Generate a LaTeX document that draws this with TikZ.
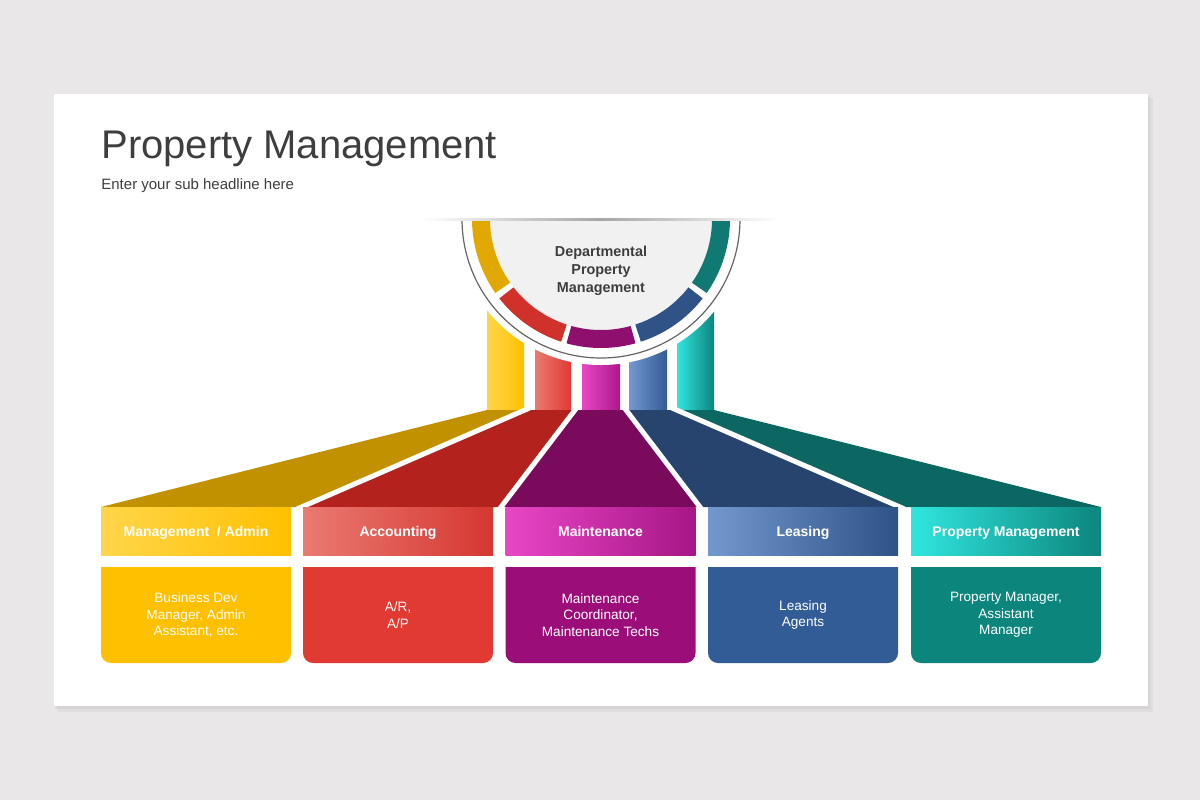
\documentclass[tikz,border=0pt]{standalone}
\usepackage{fontspec}
\setmainfont{Liberation Sans}
\usetikzlibrary{positioning}

\definecolor{bg}{HTML}{E9E7E8}
\definecolor{ink}{HTML}{3E3E3E}
\definecolor{hubbg}{HTML}{F1F1F1}
% base / light / floor / ring tones
\definecolor{yel}{HTML}{FFC000}  \definecolor{yelL}{HTML}{FFD54A}  \definecolor{yelD}{HTML}{C19100}  \definecolor{yelR}{HTML}{E0A800}
\definecolor{red}{HTML}{E03A33}  \definecolor{redL}{HTML}{EA7A72}  \definecolor{redD}{HTML}{B3221C}  \definecolor{redR}{HTML}{D0322B}
\definecolor{mag}{HTML}{9B0E7A}  \definecolor{magL}{HTML}{E846C6}  \definecolor{magD}{HTML}{7A0B5C}  \definecolor{magR}{HTML}{8E0F6E}
\definecolor{blu}{HTML}{325C96}  \definecolor{bluL}{HTML}{7398CE}  \definecolor{bluD}{HTML}{27446F}  \definecolor{bluR}{HTML}{2F5287}
\definecolor{tea}{HTML}{0C857D}  \definecolor{teaL}{HTML}{30E6DF}  \definecolor{teaD}{HTML}{0C6762}  \definecolor{teaR}{HTML}{107A72}

\begin{document}
\begin{tikzpicture}[x=0.5pt, y=-0.5pt,
  head/.style={minimum width=95pt, minimum height=24pt, inner sep=0pt, text=white,
    text height=7pt, text depth=2pt, font=\fontsize{7}{8}\selectfont\bfseries},
  body/.style={inner sep=0pt, text=white, align=center, font=\fontsize{6.8}{8.25}\selectfont},
  sep/.style={white, line width=2.5pt}]

  % slide
  \fill[bg] (0,0) rectangle (1200,800);
  \fill[black, opacity=.04] (57,98) rectangle (1153,712);
  \fill[black, opacity=.04] (55,95) rectangle (1150,709);
  \fill[white] (54,94) rectangle (1148,706);

  \node[anchor=base west, inner sep=0pt, text=ink, font=\fontsize{20}{24}\selectfont] (title) at (101,158) {Property Management};
  \node[anchor=base west, inner sep=0pt, text=ink, font=\fontsize{7.5}{9}\selectfont] (subtitle) at (101,189) {Enter your sub headline here};

  % columns under the hub
  \fill[left color=yelL, right color=yel] (487,290) rectangle (524,410);
  \fill[left color=redL, right color=red] (535,290) rectangle (571,410);
  \fill[left color=magL, right color=mag!80!magL] (582,290) rectangle (620,410);
  \fill[left color=bluL, right color=blu] (629,290) rectangle (667,410);
  \fill[left color=teaL, right color=tea] (677,290) rectangle (714,410);

  % floors
  \fill[yelD] (487,410) -- (529.5,410) -- (297,507) -- (101,507) -- cycle;
  \fill[redD] (529.5,410) -- (576.5,410) -- (499.5,507) -- (297,507) -- cycle;
  \fill[magD] (576.5,410) -- (624.5,410) -- (701.5,507) -- (499.5,507) -- cycle;
  \fill[bluD] (624.5,410) -- (672,410) -- (904.5,507) -- (701.5,507) -- cycle;
  \fill[teaD] (672,410) -- (714,410) -- (1101,507) -- (904.5,507) -- cycle;
  \draw[sep] (529.5,408) -- (297,509);
  \draw[sep] (576.5,408) -- (499.5,509);
  \draw[sep] (624.5,408) -- (701.5,509);
  \draw[sep] (672,408) -- (904.5,509);

  % hub
  \fill[white] (455,219) arc[start angle=180, end angle=0, radius=146] -- cycle;
  \draw[ink!80, line width=.6pt] (462,219) arc[start angle=180, end angle=0, radius=139];
  \fill[hubbg] (490,219) arc[start angle=180, end angle=0, radius=111] -- cycle;
  \fill[yelR] ([shift={(601,219)}]180:129) arc[start angle=180, end angle=145, radius=129] -- ([shift={(601,219)}]145:111) arc[start angle=145, end angle=180, radius=111] -- cycle;
  \fill[redR] ([shift={(601,219)}]142:129) arc[start angle=142, end angle=108, radius=129] -- ([shift={(601,219)}]108:111) arc[start angle=108, end angle=142, radius=111] -- cycle;
  \fill[magR] ([shift={(601,219)}]105.5:129) arc[start angle=105.5, end angle=74.5, radius=129] -- ([shift={(601,219)}]74.5:111) arc[start angle=74.5, end angle=105.5, radius=111] -- cycle;
  \fill[bluR] ([shift={(601,219)}]72:129) arc[start angle=72, end angle=38, radius=129] -- ([shift={(601,219)}]38:111) arc[start angle=38, end angle=72, radius=111] -- cycle;
  \fill[teaR] ([shift={(601,219)}]35:129) arc[start angle=35, end angle=0, radius=129] -- ([shift={(601,219)}]0:111) arc[start angle=0, end angle=35, radius=111] -- cycle;
  \fill[left color=white, right color=white, middle color=black!35] (420,218.5) rectangle (780,220.5);
  \node[align=center, text=ink, font=\fontsize{7.2}{9}\selectfont\bfseries] (hub) at (601,271) {Departmental\\Property\\Management};

  % headers
  \node[head, left color=yelL, right color=yel] (hadmin) at (196,531) {Management \ / Admin};
  \node[head, left color=redL, right color=red!95!black] (hacc) at (398,531) {Accounting};
  \node[head, left color=magL, right color=mag!85!magL] (hmaint) at (600.5,531) {Maintenance};
  \node[head, left color=bluL, right color=blu!90!black] (hlease) at (803,531) {Leasing};
  \node[head, left color=teaL, right color=tea] (hprop) at (1006,531) {Property Management};

  % bodies
  \fill[yel] (101,567) -- (291,567) -- (291,653) arc[start angle=0, end angle=90, radius=10] -- (111,663) arc[start angle=90, end angle=180, radius=10] -- cycle;
  \node[body] (badmin) at (196,615) {Business Dev\\Manager, Admin\\Assistant, etc.};
  \fill[red] (303,567) -- (493,567) -- (493,653) arc[start angle=0, end angle=90, radius=10] -- (313,663) arc[start angle=90, end angle=180, radius=10] -- cycle;
  \node[body] (bacc) at (398,615) {A/R,\\A/P};
  \fill[mag] (505.5,567) -- (695.5,567) -- (695.5,653) arc[start angle=0, end angle=90, radius=10] -- (515.5,663) arc[start angle=90, end angle=180, radius=10] -- cycle;
  \node[body] (bmaint) at (600.5,615) {Maintenance\\Coordinator,\\Maintenance Techs};
  \fill[blu] (708,567) -- (898,567) -- (898,653) arc[start angle=0, end angle=90, radius=10] -- (718,663) arc[start angle=90, end angle=180, radius=10] -- cycle;
  \node[body] (blease) at (803,615) {Leasing\\Agents};
  \fill[tea] (911,567) -- (1101,567) -- (1101,653) arc[start angle=0, end angle=90, radius=10] -- (921,663) arc[start angle=90, end angle=180, radius=10] -- cycle;
  \node[body] (bprop) at (1006,615) {Property Manager,\\Assistant\\Manager};

\end{tikzpicture}
\end{document}
